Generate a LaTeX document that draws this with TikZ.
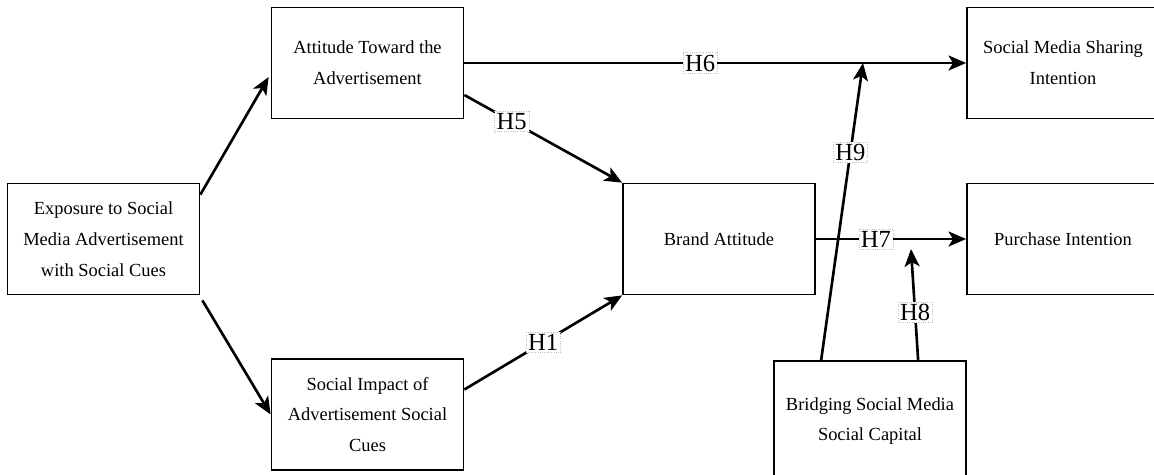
\documentclass[tikz,border=0pt]{standalone}
\usepackage{fontspec}
\setmainfont{Liberation Serif}
\usetikzlibrary{arrows.meta, calc}

\tikzset{
    concept/.style={draw, line width=1pt, minimum width=3.84cm, minimum height=2.22cm, align=center, font=\fontsize{10.5}{17.5}\selectfont},
    path arrow/.style={line width=1.5pt, -{Stealth[length=10pt, width=8.5pt, inset=2.5pt]}},
    hyp/.style={draw=black!25, densely dotted, line width=0.3pt, fill=white, inner sep=1.2pt, font=\fontsize{14}{14}\selectfont}
}

\begin{document}
\begin{tikzpicture}[x=0.02cm, y=-0.02cm]
    \useasboundingbox (0,0) rectangle (1154,474);
    \clip (0,0) rectangle (1154,474);
    \fill[white] (0,0) rectangle (1154,474);

    % Constructs
    \node[concept] (expo) at (103.5,239) {Exposure to Social\\Media Advertisement\\with Social Cues};
    \node[concept] (att) at (367.5,63) {Attitude Toward the\\Advertisement};
    \node[concept] (soc) at (367.5,414.5) {Social Impact of\\Advertisement Social\\Cues};
    \node[concept] (brand) at (719,239) {Brand Attitude};
    \node[concept] (share) at (1063,63) {Social Media Sharing\\Intention};
    \node[concept] (purch) at (1063,239) {Purchase Intention};
    \node[concept, minimum height=2.4cm] (bridge) at (870,421) {Bridging Social Media\\Social Capital};

    % Moderation targets on the H6 and H7 paths
    \coordinate (m9) at (863,63);
    \coordinate (m8) at (911,249);

    % Paths from exposure
    \draw[path arrow] ($(expo.north east)+(0,12)$) -- ($(att.west)+(-2,14)$);
    \draw[path arrow] ($(expo.south east)+(2,5)$) -- (soc.west);

    % Hypotheses
    \draw[path arrow] ($(att.east)+(0,32)$) -- node[hyp, pos=0.3] {H5} (brand.north west);
    \draw[path arrow] ($(soc.east)+(0,-25)$) -- node[hyp, pos=0.5] {H1} (brand.south west);
    \draw[path arrow] (att.east) -- node[hyp, pos=0.47] {H6} (share.west);
    \draw[path arrow] (brand.east) -- node[hyp, pos=0.4] {H7} (purch.west);
    \draw[path arrow] ($(bridge.north west)+(48,0)$) -- node[hyp, pos=0.7] {H9} (m9);
    \draw[path arrow] ($(bridge.north west)+(145,0)$) -- node[hyp, pos=0.43] {H8} (m8);
\end{tikzpicture}
\end{document}
